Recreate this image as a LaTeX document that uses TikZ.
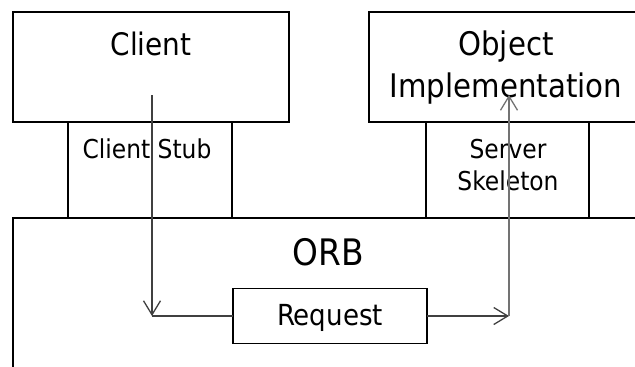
\documentclass[tikz,border=0pt]{standalone}
\usepackage{fontspec}
\setmainfont{DejaVu Sans Condensed}
\usetikzlibrary{arrows.meta}

\begin{document}
\begin{tikzpicture}[x=1pt,y=-1pt]
    \tikzstyle{every node}=[inner sep=0pt,outer sep=0pt]
    \tikzstyle{block}=[draw,line width=2.4pt,anchor=north west]
    \tikzstyle{big}=[font=\fontsize{32.5}{42}\selectfont,align=center]
    \tikzstyle{small}=[font=\fontsize{26}{32}\selectfont,align=center]
    \tikzstyle{flow}=[line width=1.3pt,draw=black!75,-{Straight Barb[length=14pt,width=17pt]}]
    \clip (0,0) rectangle (635,367);

    % layers: application boxes, stub/skeleton, ORB
    \node[block,minimum width=276pt,minimum height=110pt] (client) at (13,12) {};
    \node[block,minimum width=164pt,minimum height=96pt] (stub) at (68,122) {};
    \node[block,minimum width=280pt,minimum height=110pt] (impl) at (369,12) {};
    \node[block,minimum width=163pt,minimum height=96pt] (skel) at (426,122) {};
    \node[block,minimum width=640pt,minimum height=170pt] (orb) at (13,218) {};
    \node[draw,line width=1.5pt,minimum width=194pt,minimum height=55pt,anchor=north west] (request) at (233,288.5) {};

    % labels (multi-line ones sit on their last baseline)
    \node[big,font=\fontsize{31}{42}\selectfont,anchor=base] (clientlbl) at (151,55) {Client};
    \node[big,anchor=base] (impllbl) at (506,97) {Object\\Implementation};
    \node[small,anchor=base] (stublbl) at (147,158) {Client Stub};
    \node[small,anchor=base] (skellbl) at (508,190) {Server\\Skeleton};
    \node[font=\fontsize{36.5}{40}\selectfont,anchor=base] (orblbl) at (328,265) {ORB};
    \node[font=\fontsize{29}{32}\selectfont,anchor=base] (reqlbl) at (330,325) {Request};

    % request path
    \coordinate (cstart) at (152,95);
    \coordinate (cturn) at (152,316);
    \coordinate (sturn) at (509,316);
    \coordinate (send) at (509,95);
    \draw[flow] (cstart) -- (cturn);
    \draw[flow,-] (cturn) -- (request.west);
    \draw[flow] (request.east) -- (sturn);
    \draw[flow,draw=black!55] (sturn) -- (send);
\end{tikzpicture}
\end{document}
